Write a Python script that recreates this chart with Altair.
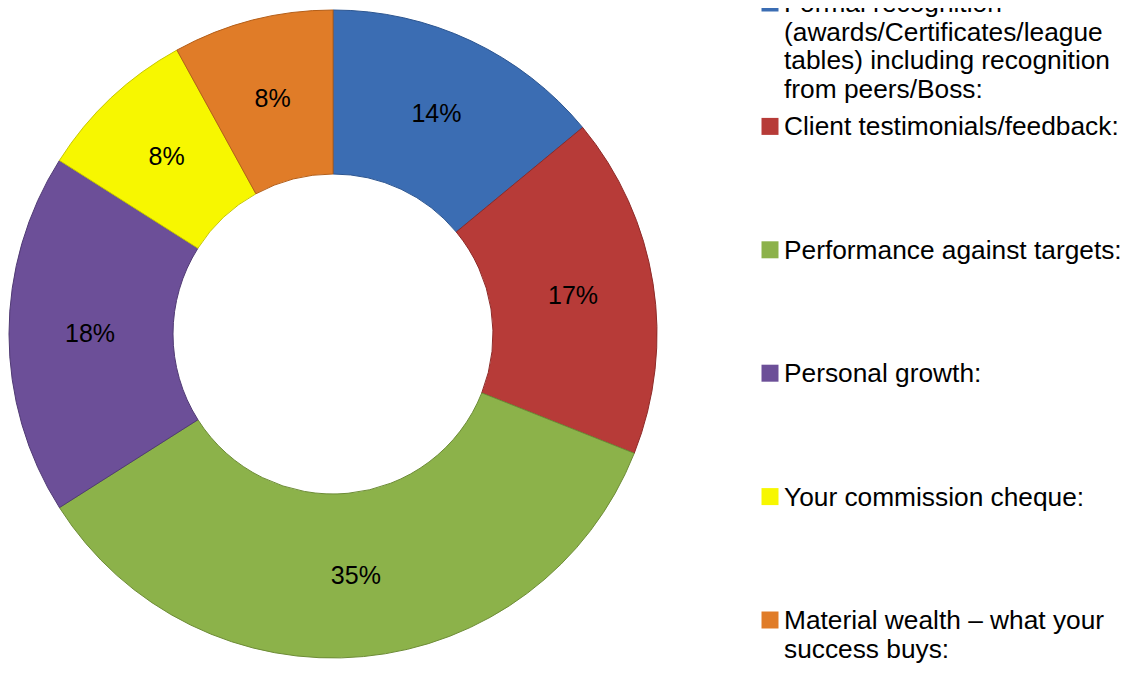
import altair as alt
import pandas as pd

# ---- data ----
categories = [
    "Formal recognition (awards/Certificates/league tables) including recognition from peers/Boss:",
    "Client testimonials/feedback:",
    "Performance against targets:",
    "Personal growth:",
    "Your commission cheque:",
    "Material wealth – what your success buys:",
]
legend_lines = [
    "Formal recognition\n(awards/Certificates/league\ntables) including recognition\nfrom peers/Boss:",
    "Client testimonials/feedback:",
    "Performance against targets:",
    "Personal growth:",
    "Your commission cheque:",
    "Material wealth – what your\nsuccess buys:",
]
shares = [14, 17, 35, 18, 8, 8]
colors = ["#3B6DB3", "#B73B38", "#8CB24A", "#6C4F98", "#F7F700", "#E07C28"]
edge_colors = ["#2C5590", "#8E2A28", "#6D8C36", "#503A74", "#C8C800", "#B45E18"]

df = pd.DataFrame({
    "cat": categories,
    "legend": legend_lines,
    "share": shares,
    "order": list(range(len(categories))),
    "label": [f"{v}%" for v in shares],
})

FONT = "Liberation Sans"
CX, CY = 325, 326

color_scale = alt.Scale(domain=categories, range=colors)
stroke_scale = alt.Scale(domain=categories, range=edge_colors)

base = alt.Chart(df)

arcs = base.mark_arc(outerRadius=324, innerRadius=160, strokeWidth=1).encode(
    theta=alt.Theta("share:Q", stack=True),
    order=alt.Order("order:Q"),
    color=alt.Color("cat:N", scale=color_scale, legend=None),
    stroke=alt.Stroke("cat:N", scale=stroke_scale, legend=None),
    x=alt.value(CX),
    y=alt.value(CY),
)

labels = base.mark_text(font=FONT, fontSize=25, color="black",
                        align="center", baseline="middle").encode(
    theta=alt.Theta("share:Q", stack=True),
    order=alt.Order("order:Q"),
    radius=alt.value(243),
    text="label:N",
    x=alt.value(CX),
    y=alt.value(CY),
)

y_leg = alt.Y("cat:N", scale=alt.Scale(type="point", domain=categories,
                                       range=[-5, 612], padding=0), axis=None)

leg_marks = base.mark_square(size=289, opacity=1).encode(
    x=alt.value(762),
    y=y_leg,
    color=alt.Color("cat:N", scale=color_scale, legend=None),
)

leg_text = base.mark_text(font=FONT, fontSize=26.3, color="black", align="left",
                          baseline="top", lineBreak="\n", lineHeight=28.5,
                          dy=-12).encode(
    x=alt.value(776),
    y=y_leg,
    text="legend:N",
)

chart = alt.layer(arcs, labels, leg_marks, leg_text).properties(
    width=1116, height=657,
    autosize=alt.AutoSizeParams(type="none"),
    padding=0,
).configure_view(stroke=None)

chart.save("out.html", embed_options={"renderer": "svg", "actions": False})
